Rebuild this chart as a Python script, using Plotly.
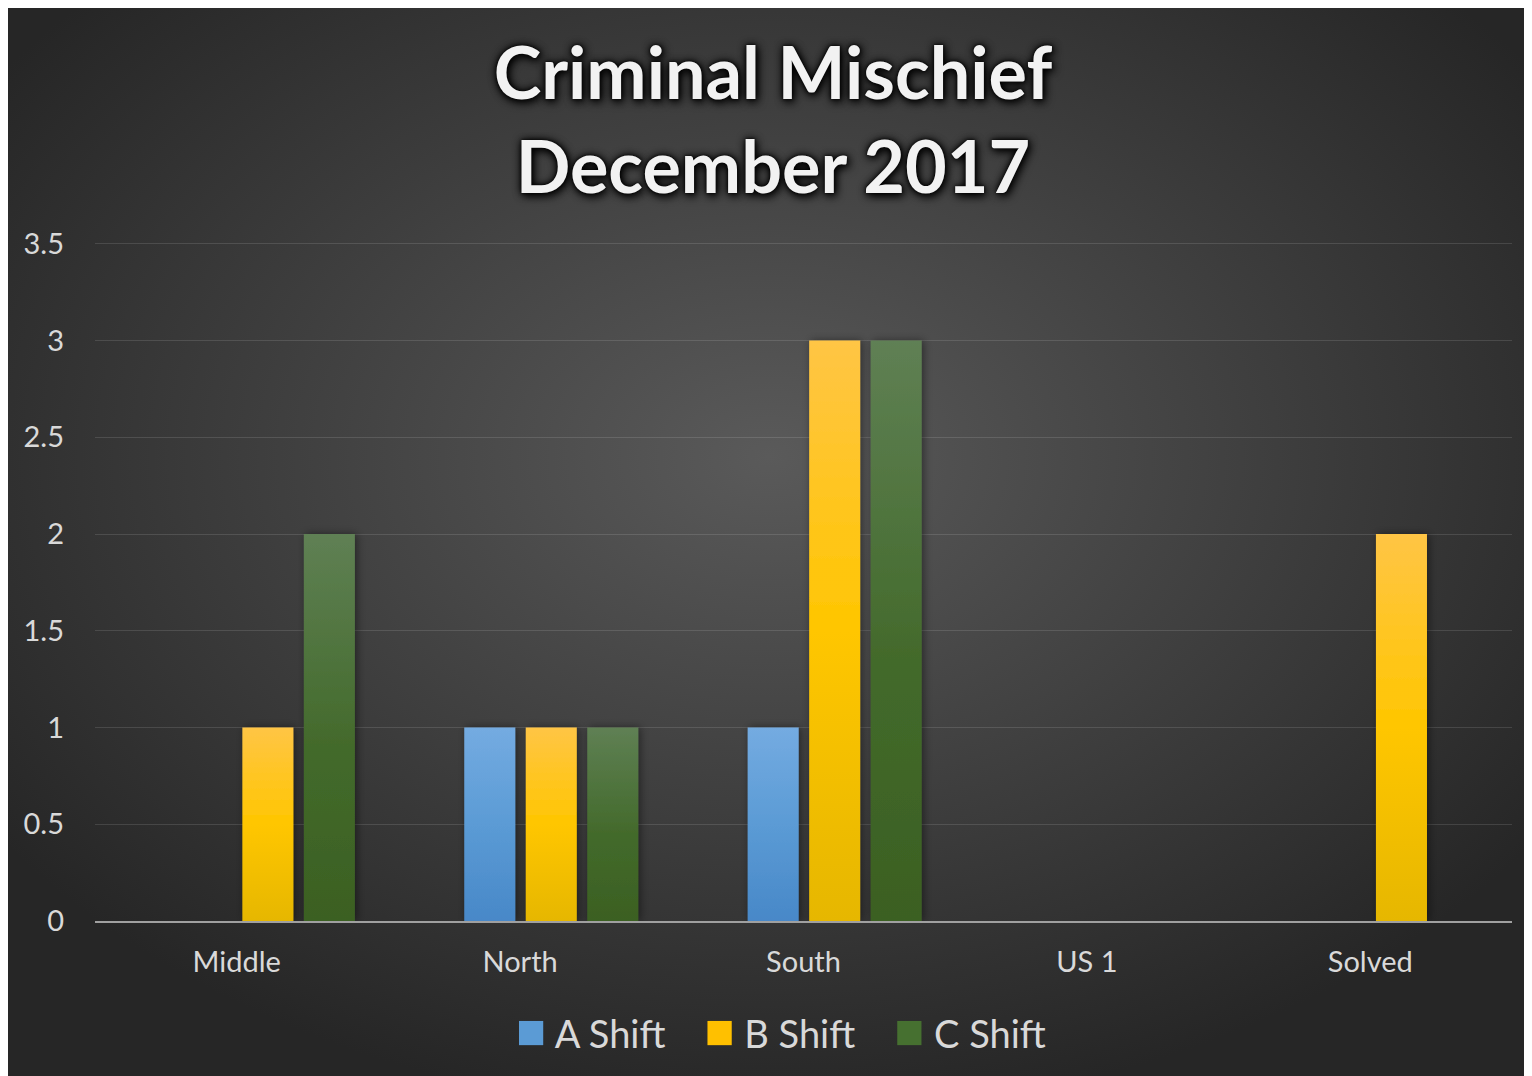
import base64

import plotly.graph_objects as go

categories = ["Middle", "North", "South", "US 1", "Solved"]
series_names = ["A Shift", "B Shift", "C Shift"]
a_shift = [0, 1, 1, 0, 0]
b_shift = [1, 1, 3, 0, 2]
c_shift = [2, 1, 3, 0, 0]
y_ticks = [0, 0.5, 1, 1.5, 2, 2.5, 3, 3.5]

colors = ["#5b9bd5", "#ffc000", "#467030"]
offsets = [-0.197, 0.02, 0.237]
FONT = "Lato, 'Open Sans', sans-serif"

# the page body adds 8px, so the figure is drawn 8px smaller than the window
W, H = 1522, 1068

# radial background like the Excel chart style
bg_svg = (
    f'<svg xmlns="http://www.w3.org/2000/svg" width="{W}" height="{H}" preserveAspectRatio="none">'
    '<defs><radialGradient id="g" cx="0.5" cy="0.42" r="0.62">'
    '<stop offset="0" stop-color="#5a5a5a"/><stop offset="1" stop-color="#262626"/>'
    "</radialGradient></defs>"
    f'<rect width="{W}" height="{H}" fill="url(#g)"/></svg>'
)
bg_src = "data:image/svg+xml;base64," + base64.b64encode(bg_svg.encode()).decode()

fig = go.Figure()
for name, vals, color, off in zip(series_names, [a_shift, b_shift, c_shift], colors, offsets):
    fig.add_trace(
        go.Bar(
            x=categories,
            y=vals,
            name=name,
            marker=dict(color=color, line=dict(width=0)),
            width=0.18,
            offset=off,
            showlegend=False,
        )
    )

# small headroom above 3.5 so its gridline is kept
ml, mr, mt, mb = 87, 18, 232, 155
pw, ph = W - ml - mr, H - mt - mb
fig.add_layout_image(
    dict(
        source=bg_src,
        xref="paper", yref="paper",
        x=-ml / pw, y=1 + mt / ph,
        sizex=W / pw, sizey=H / ph,
        xanchor="left", yanchor="top",
        sizing="stretch",
        layer="below",
    )
)

legend_txt = "\u00a0\u00a0\u00a0\u00a0".join(
    f"<span style='color:{c};font-size:50px'>\u25a0</span>\u00a0{n}" for n, c in zip(series_names, colors)
)
fig.add_annotation(
    text=legend_txt,
    xref="paper", yref="paper",
    x=(773 - ml) / pw, y=(913 - 1021) / ph,
    xanchor="center", yanchor="middle",
    showarrow=False,
    font=dict(family=FONT, size=38, color="#d9d9d9"),
)

fig.update_layout(
    width=W,
    height=H,
    margin=dict(l=ml, r=mr, t=mt, b=mb),
    paper_bgcolor="#2a2a2a",
    plot_bgcolor="rgba(0,0,0,0)",
    barmode="group",
    title=dict(
        text="Criminal Mischief<br>December 2017",
        x=765 / W,
        xref="container",
        xanchor="center",
        y=1 - 91 / H,
        yref="container",
        yanchor="top",
        font=dict(
            family=FONT, size=72, color="#f2f2f2", weight="bold",
            shadow="0px 0px 3px #000, 0px 0px 8px #000, 2px 3px 10px #000",
        ),
    ),
    font=dict(family=FONT, color="#d9d9d9"),
    xaxis=dict(
        showgrid=False,
        ticks="",
        tickfont=dict(size=29, color="#d9d9d9"),
        ticklabelstandoff=14,
        showline=True,
        linecolor="#a0a0a0",
        linewidth=2,
    ),
    yaxis=dict(
        range=[0, 3.52],
        tickvals=y_ticks,
        ticktext=[f"{v:g}" for v in y_ticks],
        gridcolor="rgba(255,255,255,0.12)",
        gridwidth=1,
        zeroline=False,
        showline=False,
        ticks="",
        tickfont=dict(size=29, color="#d9d9d9"),
        ticklabelstandoff=30,
    ),
)

# vertical gradients and soft shadow on bars (Excel-like), applied after render
post_js = """
var gd = document.getElementById('{plot_id}');
var ns = 'http://www.w3.org/2000/svg';
var svg = gd.querySelector('svg.main-svg');
var defs = document.createElementNS(ns, 'defs');
svg.insertBefore(defs, svg.firstChild);
var grads = [
  ['gA', [['0', '#74abe1'], ['0.5', '#5b9bd5'], ['1', '#4888c8']]],
  ['gB', [['0', '#ffc545'], ['0.5', '#ffc600'], ['1', '#e6b700']]],
  ['gC', [['0', '#5f8054'], ['0.55', '#436a2b'], ['1', '#3b6022']]]
];
grads.forEach(function(g) {
  var lg = document.createElementNS(ns, 'linearGradient');
  lg.setAttribute('id', g[0]);
  lg.setAttribute('x1', '0'); lg.setAttribute('y1', '0');
  lg.setAttribute('x2', '0'); lg.setAttribute('y2', '1');
  g[1].forEach(function(s) {
    var st = document.createElementNS(ns, 'stop');
    st.setAttribute('offset', s[0]);
    st.setAttribute('stop-color', s[1]);
    lg.appendChild(st);
  });
  defs.appendChild(lg);
});
var f = document.createElementNS(ns, 'filter');
f.setAttribute('id', 'barShadow');
f.setAttribute('x', '-30%'); f.setAttribute('y', '-10%');
f.setAttribute('width', '160%'); f.setAttribute('height', '120%');
var ds = document.createElementNS(ns, 'feDropShadow');
ds.setAttribute('dx', '2'); ds.setAttribute('dy', '0');
ds.setAttribute('stdDeviation', '4');
ds.setAttribute('flood-color', '#000');
ds.setAttribute('flood-opacity', '0.45');
f.appendChild(ds);
defs.appendChild(f);
var traces = gd.querySelectorAll('.barlayer .trace.bars');
traces.forEach(function(t, i) {
  t.querySelectorAll('path').forEach(function(p) {
    p.style.fill = 'url(#' + grads[i][0] + ')';
    p.setAttribute('filter', 'url(#barShadow)');
  });
});
"""

fig.write_html("out.html", post_script=post_js)
